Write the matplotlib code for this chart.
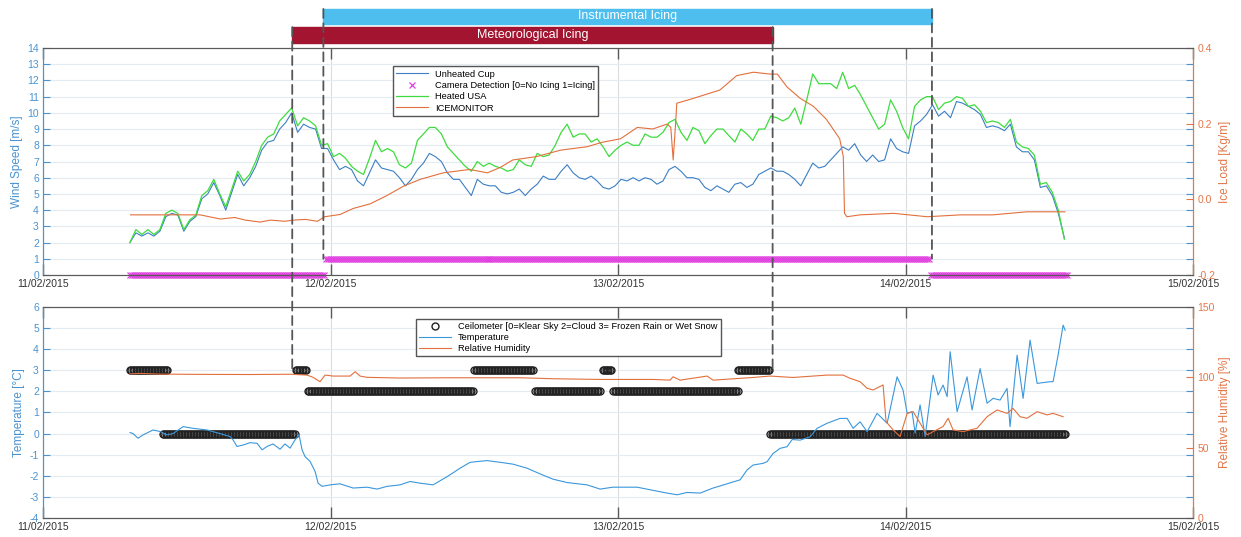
import numpy as np
import matplotlib.pyplot as plt
from matplotlib.patches import Rectangle, ConnectionPatch

plt.rcParams['font.family'] = ['Liberation Sans', 'DejaVu Sans']
plt.rcParams['axes.unicode_minus'] = False

# time axis in hours after 11/02/2015 00:00
day_hours = [0, 24, 48, 72, 96]
day_labels = ['11/02/2015', '12/02/2015', '13/02/2015', '14/02/2015', '15/02/2015']

# wind speed, 30 min samples starting 11/02 07:15
wind_start = 7.25
wind_step = 0.5
heated_usa = [
    2.0, 2.8, 2.5, 2.8, 2.5, 2.8, 3.8, 4.0, 3.8, 2.8,
    3.4, 3.7, 4.9, 5.2, 5.9, 5.0, 4.2, 5.3, 6.4, 5.8,
    6.2, 7.0, 8.0, 8.5, 8.7, 9.5, 9.9, 10.3, 9.2, 9.7,
    9.5, 9.2, 8.0, 8.1, 7.3, 7.5, 7.2, 6.7, 6.4, 6.2,
    7.2, 8.3, 7.6, 7.8, 7.6, 6.8, 6.6, 6.9, 8.3, 8.7,
    9.1, 9.1, 8.7, 7.9, 7.5, 7.1, 6.7, 6.4, 7.0, 6.7,
    6.9, 6.7, 6.6, 6.4, 6.5, 7.1, 6.8, 6.7, 7.5, 7.3,
    7.4, 8.0, 8.8, 9.3, 8.5, 8.7, 8.7, 8.2, 8.4, 7.9,
    7.3, 7.7, 8.0, 8.2, 8.0, 8.0, 8.7, 8.5, 8.5, 8.8,
    9.4, 9.6, 8.8, 8.3, 9.1, 8.9, 8.1, 8.6, 9.0, 9.0,
    8.6, 8.2, 9.0, 8.7, 8.3, 9.0, 9.0, 9.8, 9.7, 9.5,
    9.7, 10.3, 9.3, 10.8, 12.4, 11.8, 11.8, 11.8, 11.5, 12.5,
    11.5, 11.7, 11.1, 10.4, 9.7, 9.0, 9.3, 10.8, 10.1, 9.1,
    8.4, 10.4, 10.8, 11.0, 11.0, 10.2, 10.6, 10.7, 11.0, 10.9,
    10.4, 10.5, 10.1, 9.4, 9.5, 9.4, 9.1, 9.6, 8.2, 7.9,
    7.8, 7.4, 5.6, 5.7, 5.1, 4.0, 2.2]
unheated_cup = [
    2.0, 2.6, 2.4, 2.6, 2.4, 2.7, 3.6, 3.8, 3.7, 2.7,
    3.3, 3.6, 4.7, 5.0, 5.7, 4.9, 4.0, 5.1, 6.2, 5.5,
    6.0, 6.7, 7.7, 8.2, 8.3, 9.0, 9.4, 10.0, 8.8, 9.3,
    9.1, 9.0, 7.8, 7.8, 7.1, 6.5, 6.7, 6.5, 5.8, 5.5,
    6.3, 7.1, 6.6, 6.5, 6.4, 6.0, 5.5, 5.9, 6.5, 6.9,
    7.5, 7.3, 7.0, 6.3, 5.9, 5.9, 5.4, 4.9, 5.9, 5.6,
    5.5, 5.5, 5.1, 5.0, 5.1, 5.3, 4.9, 5.3, 5.6, 6.1,
    5.9, 5.9, 6.4, 6.8, 6.3, 6.0, 5.9, 6.1, 5.8, 5.4,
    5.3, 5.5, 5.9, 5.8, 6.0, 5.8, 6.0, 5.9, 5.6, 5.8,
    6.5, 6.7, 6.4, 6.0, 6.0, 5.9, 5.4, 5.2, 5.5, 5.3,
    5.1, 5.6, 5.7, 5.4, 5.6, 6.2, 6.4, 6.6, 6.4, 6.4,
    6.2, 5.9, 5.5, 6.2, 6.9, 6.6, 6.7, 7.1, 7.5, 7.9,
    7.7, 8.1, 7.4, 7.0, 7.4, 7.0, 7.1, 8.4, 7.8, 7.6,
    7.5, 9.2, 9.5, 9.9, 10.5, 9.8, 10.1, 9.7, 10.7, 10.6,
    10.4, 10.2, 9.9, 9.1, 9.2, 9.1, 8.9, 9.3, 7.9, 7.6,
    7.6, 7.1, 5.4, 5.5, 4.9, 3.8, 2.3]

ice_hours = [7.3, 13.1, 14.8, 16.0, 16.9, 18.1, 19.0, 20.2, 20.9, 21.9,
             22.9, 23.5, 24.8, 25.9, 27.3, 28.7, 30.1, 31.5, 33.4, 35.6,
             37.1, 38.2, 39.2, 41.2, 43.2, 45.4, 46.7, 48.2, 49.6, 50.9,
             52.1, 52.4, 52.6, 52.8, 52.9, 54.3, 56.5, 57.9, 59.3, 60.7,
             61.3, 62.1, 63.2, 64.3, 65.4, 66.5, 66.8, 66.9, 67.1, 68.2,
             71.0, 73.8, 76.6, 79.3, 82.1, 84.9, 85.3]
ice_load = [-0.041, -0.041, -0.052, -0.048, -0.055, -0.060, -0.055, -0.058, -0.055, -0.053,
            -0.058, -0.046, -0.040, -0.024, -0.012, 0.010, 0.035, 0.053, 0.070, 0.079,
            0.070, 0.085, 0.104, 0.113, 0.130, 0.139, 0.151, 0.160, 0.190, 0.186,
            0.199, 0.190, 0.104, 0.200, 0.254, 0.267, 0.289, 0.327, 0.336, 0.331,
            0.331, 0.297, 0.267, 0.246, 0.211, 0.160, 0.113, -0.037, -0.046, -0.041,
            -0.037, -0.046, -0.041, -0.041, -0.033, -0.033, -0.033]

# (start hour, end hour, state)
camera_periods = [(7.25, 23.5, 0), (23.6, 74.0, 1), (74.1, 85.5, 0)]
ceilometer_periods = [(7.25, 10.4, 3), (10.0, 21.0, 0), (21.1, 22.0, 3), (22.1, 35.9, 2),
                      (36.0, 40.9, 3), (41.1, 46.5, 2), (46.7, 47.5, 3), (47.6, 58.0, 2),
                      (58.0, 60.7, 3), (60.7, 85.4, 0)]

temp_hours = [7.26, 7.51, 7.93, 8.35, 9.18, 9.77, 10.35, 10.85, 11.69, 12.52,
              13.69, 14.78, 15.61, 15.86, 16.19, 16.70, 17.28, 17.87, 18.28, 18.70,
              19.20, 19.78, 20.20, 20.62, 21.03, 21.37, 21.62, 21.87, 22.29, 22.71,
              22.96, 23.29, 23.96, 24.79, 25.88, 27.05, 27.88, 28.72, 29.80, 30.64,
              31.47, 32.56, 33.73, 34.81, 35.65, 37.06, 38.15, 39.24, 40.40, 41.49,
              42.57, 43.74, 45.41, 46.50, 47.58, 49.59, 50.92, 52.09, 52.93, 53.76,
              54.85, 55.93, 57.10, 58.19, 58.77, 59.27, 60.10, 60.44, 60.94, 61.52,
              62.11, 62.53, 63.19, 64.03, 64.61, 65.45, 66.53, 67.12, 67.62, 68.20,
              68.79, 69.62, 70.46, 71.29, 71.79, 72.13, 72.54, 72.80, 73.21, 73.63,
              74.30, 74.71, 75.13, 75.47, 75.72, 76.30, 77.13, 77.55, 78.22, 78.80,
              79.31, 79.89, 80.47, 80.72, 81.31, 81.81, 82.39, 82.98, 84.06, 84.31,
              84.73, 85.15, 85.32]
temperature = [0.05, 0.0, -0.22, -0.06, 0.17, 0.10, -0.06, 0.0, 0.33, 0.25,
               0.17, 0.0, -0.14, -0.30, -0.61, -0.54, -0.43, -0.46, -0.77, -0.61,
               -0.49, -0.74, -0.49, -0.69, -0.30, -0.06, -0.77, -1.09, -1.32, -1.80,
               -2.35, -2.50, -2.43, -2.38, -2.58, -2.54, -2.63, -2.50, -2.43, -2.27,
               -2.35, -2.43, -2.04, -1.64, -1.36, -1.28, -1.36, -1.45, -1.64, -1.91,
               -2.16, -2.32, -2.43, -2.63, -2.54, -2.54, -2.69, -2.82, -2.90, -2.79,
               -2.82, -2.58, -2.38, -2.19, -1.72, -1.49, -1.41, -1.33, -0.94, -0.70,
               -0.62, -0.28, -0.31, -0.15, 0.25, 0.49, 0.72, 0.72, 0.25, 0.56,
               0.09, 0.96, 0.49, 2.69, 2.06, 0.96, 1.04, 0.02, 1.36, -0.14,
               2.77, 1.83, 2.30, 1.75, 3.88, 1.04, 2.69, 1.12, 3.08, 1.44,
               1.67, 1.59, 2.14, 0.33, 3.72, 1.67, 4.43, 2.38, 2.46, 2.46,
               3.72, 5.14, 4.90]

rh_hours = [7.26, 8.10, 9.77, 13.11, 17.28, 20.62, 22.04, 22.54, 23.12, 23.54,
            24.21, 25.63, 26.05, 26.46, 27.05, 29.80, 34.23, 39.82, 42.57, 46.50,
            50.92, 52.34, 52.59, 53.18, 55.43, 55.93, 59.27, 60.69, 62.61, 65.45,
            66.78, 67.37, 68.20, 68.79, 69.29, 70.12, 70.37, 70.96, 71.54, 72.13,
            72.63, 73.21, 73.80, 74.30, 75.13, 75.55, 75.97, 76.80, 77.97, 78.80,
            79.64, 80.47, 80.97, 81.56, 82.14, 82.98, 83.81, 84.31, 85.15]
humidity = [102.5, 102.8, 102.3, 102.1, 102.0, 102.2, 101.6, 100.0, 96.9, 101.6,
            100.9, 100.9, 104.0, 100.9, 100.0, 99.5, 99.7, 99.7, 99.0, 98.5,
            98.5, 98.0, 100.4, 98.0, 100.9, 98.0, 99.9, 100.9, 99.9, 101.6,
            101.6, 99.3, 96.9, 92.2, 91.0, 94.6, 68.5, 62.6, 57.9, 74.4,
            75.6, 67.4, 59.1, 61.4, 65.0, 70.9, 62.6, 61.4, 63.8, 72.0,
            76.8, 74.4, 77.9, 72.0, 70.9, 75.6, 73.3, 74.4, 72.0]

instrumental_icing = (23.4, 74.2)
meteorological_icing = (20.8, 60.9)

BLUE_AX = '#4A93D0'
ORANGE_AX = '#E2774A'
GREY = '#5a5a5a'


def expand(periods, step=1 / 6):
    ts, vs = [], []
    for start, end, state in periods:
        t = np.arange(start, end + 1e-9, step)
        ts.append(t)
        vs.append(np.full(len(t), state))
    return np.concatenate(ts), np.concatenate(vs)


def style(ax, axr, ylim, yticks, rlim, rticks, ylabel, rlabel):
    ax.set_xlim(0, 96)
    ax.set_xticks(day_hours)
    ax.set_xticklabels(day_labels)
    ax.set_ylim(*ylim)
    ax.set_yticks(yticks)
    ax.tick_params(axis='x', direction='in', length=8, width=1, color=GREY,
                   labelcolor='#333333', labelsize=7.5, top=True, pad=3)
    ax.tick_params(axis='y', direction='in', length=5, color=BLUE_AX,
                   labelcolor=BLUE_AX, labelsize=7.5, right=True, pad=3)
    ax.grid(True, axis='y', color='#E4EBF3', lw=0.8)
    ax.grid(True, axis='x', color='#DCDCDC', lw=0.8)
    ax.set_ylabel(ylabel, color=BLUE_AX, fontsize=8.5, labelpad=3)
    axr.set_ylim(*rlim)
    axr.set_yticks(rticks)
    axr.tick_params(axis='y', direction='in', length=5, color=ORANGE_AX,
                    labelcolor=ORANGE_AX, labelsize=7.5, pad=3)
    axr.set_ylabel(rlabel, color=ORANGE_AX, fontsize=8.5, labelpad=3)
    for a in (ax, axr):
        a.spines['top'].set_color(GREY)
        a.spines['bottom'].set_color(GREY)
        a.spines['left'].set_color(BLUE_AX)
        a.spines['right'].set_color(ORANGE_AX)


fig = plt.figure(figsize=(12.41, 5.37), dpi=100)
ax1 = fig.add_axes([0.0347, 0.4879, 0.9267, 0.4227])
ax1r = ax1.twinx()
ax2 = fig.add_axes([0.0347, 0.0354, 0.9267, 0.3929])
ax2r = ax2.twinx()

# top panel: wind and ice load
wind_hours = wind_start + wind_step * np.arange(len(heated_usa))
cam_t, cam_v = expand(camera_periods)
l_cup, = ax1.plot(wind_hours, unheated_cup, color='#3C7FC3', lw=0.8)
l_cam, = ax1.plot(cam_t, cam_v, ls='none', marker='x', ms=4.5, mew=0.9,
                  color='#E040E0', clip_on=False)
l_usa, = ax1.plot(wind_hours, heated_usa, color='#3EDC3E', lw=0.9)
l_ice, = ax1r.plot(ice_hours, ice_load, color='#E2703C', lw=0.8)
style(ax1, ax1r, (0, 14), range(0, 15), (-0.2, 0.4), [-0.2, 0, 0.2, 0.4],
      'Wind Speed [m/s]', 'Ice Load [Kg/m]')
ax1r.legend([l_cup, l_cam, l_usa, l_ice],
            ['Unheated Cup', 'Camera Detection [0=No Icing 1=Icing]', 'Heated USA', 'ICEMONITOR'],
            loc='upper left', bbox_to_anchor=(0.30, 0.94), fontsize=6.7, handlelength=3.4,
            labelspacing=0.25, borderpad=0.35, fancybox=False, framealpha=1,
            edgecolor='#555555')

# bottom panel: temperature, humidity, ceilometer
ceil_t, ceil_v = expand(ceilometer_periods, step=1 / 8)
l_ceil, = ax2.plot(ceil_t, ceil_v, ls='none', marker='o', ms=5, mfc='none',
                   mec='#222222', mew=1.0)
l_temp, = ax2.plot(temp_hours, temperature, color='#3A97DC', lw=0.8)
l_rh, = ax2r.plot(rh_hours, humidity, color='#E2703C', lw=0.8)
style(ax2, ax2r, (-4, 6), range(-4, 7), (0, 150), [0, 50, 100, 150],
      'Temperature [°C]', 'Relative Humidity [%]')
ax2r.legend([l_ceil, l_temp, l_rh],
            ['Ceilometer [0=Klear Sky 2=Cloud 3= Frozen Rain or Wet Snow', 'Temperature',
             'Relative Humidity'],
            loc='upper left', bbox_to_anchor=(0.32, 0.965), fontsize=6.7, handlelength=3.4,
            labelspacing=0.2, borderpad=0.35, fancybox=False, framealpha=1,
            edgecolor='#555555')

# icing period bars above the top panel
bar_tr = ax1r.get_xaxis_transform()
for (start, end), y0, h, color, label in [
        (instrumental_icing, 1.106, 0.066, '#4DBEEE', 'Instrumental Icing'),
        (meteorological_icing, 1.022, 0.07, '#A2142F', 'Meteorological Icing')]:
    ax1r.add_patch(Rectangle((start, y0), end - start, h, transform=bar_tr,
                             color=color, clip_on=False))
    ax1r.text((start + end) / 2, y0 + h / 2, label, transform=bar_tr, color='white',
              fontsize=9, ha='center', va='center', clip_on=False)

dash = dict(linestyle=(0, (5, 3)), lw=1.3, color='#555555', zorder=5)
for x in meteorological_icing:
    fig.add_artist(ConnectionPatch(xyA=(x, 1.092), coordsA=ax1.get_xaxis_transform(),
                                   xyB=(x, 3.0), coordsB=ax2.transData, **dash))
for x in instrumental_icing:
    fig.add_artist(ConnectionPatch(xyA=(x, 1.172), coordsA=ax1.get_xaxis_transform(),
                                   xyB=(x, 1.0), coordsB=ax1.transData, **dash))

fig.savefig('out.png', dpi=100)
